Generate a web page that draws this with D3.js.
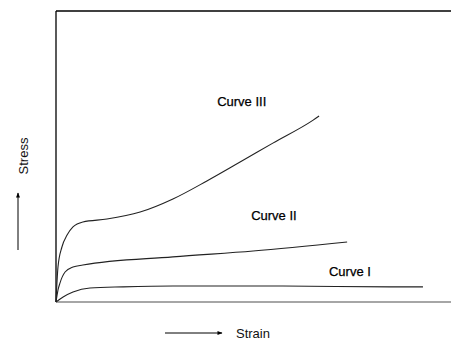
<!DOCTYPE html>
<html><head><meta charset="utf-8">
<script src="https://cdn.jsdelivr.net/npm/d3@7"></script>
<style>body{margin:0;background:#fff}svg{display:block}</style>
</head><body>
<svg id="c" width="451" height="341"></svg>
<script>
const curveI = [[0,0],[1.8,1.7],[4.3,3.4],[8.6,4.8],[17,5.2],[29.6,5.5],[56.7,5.5],[85.3,5.2],[92.9,5.2]];
const curveII = [[0,0],[0.5,4.1],[1,6.5],[2.3,10.3],[4.3,12.0],[6.8,12.7],[29.6,15.5],[49.9,17.5],[73.7,20.6]];
const curveIII = [[0,0],[0.5,12.0],[1.5,18.9],[2.8,23.0],[4.3,25.8],[6.8,27.5],[12.9,28.5],[21.3,30.9],[29.6,35.4],[38.2,41.6],[46.6,48.1],[54.9,54.6],[65.1,62.5],[66.6,63.9]];
const labels = ["Curve III","Curve II","Curve I"];
const labelPos = [[40.8,67.4],[49.4,28.2],[69.1,8.9]];
const series = [curveIII, curveII, curveI];

const svg = d3.select("#c");
const x = d3.scaleLinear().domain([0,100]).range([56,451]);
const y = d3.scaleLinear().domain([0,100]).range([302,11]);
const font = "Liberation Sans, Arial, sans-serif";

// frame
svg.append("line").attr("x1",x(0)).attr("x2",x(100)).attr("y1",y(100)).attr("y2",y(100)).attr("stroke","#000").attr("stroke-width",1.3);
svg.append("line").attr("x1",x(0)).attr("x2",x(0)).attr("y1",y(100)).attr("y2",y(0)).attr("stroke","#000").attr("stroke-width",1.3);
svg.append("line").attr("x1",x(0)).attr("x2",x(100)).attr("y1",y(0)).attr("y2",y(0)).attr("stroke","#888").attr("stroke-width",1.3);

const line = d3.line().x(d=>x(d[0])).y(d=>y(d[1])).curve(d3.curveMonotoneX);
series.forEach(s=>{
  svg.append("path").attr("d",line(s)).attr("fill","none").attr("stroke","#222").attr("stroke-width",1.1);
});
labels.forEach((t,i)=>{
  svg.append("text").attr("x",x(labelPos[i][0])).attr("y",y(labelPos[i][1]))
    .attr("font-family",font).attr("font-size",13).attr("fill","#000")
    .attr("stroke","#000").attr("stroke-width",0.25).text(t);
});

// axis labels with arrows
svg.append("defs").append("marker").attr("id","ah").attr("viewBox","0 0 10 10").attr("refX",9).attr("refY",5)
  .attr("markerWidth",7).attr("markerHeight",5).attr("orient","auto")
  .append("path").attr("d","M0,1L10,5L0,9Z").attr("fill","#000");
svg.append("line").attr("x1",165).attr("x2",222).attr("y1",333).attr("y2",333).attr("stroke","#000").attr("stroke-width",1).attr("marker-end","url(#ah)");
svg.append("text").attr("x",236).attr("y",338).attr("font-family",font).attr("font-size",13).attr("fill","#111").text("Strain");
svg.append("line").attr("x1",18).attr("x2",18).attr("y1",250).attr("y2",193).attr("stroke","#000").attr("stroke-width",1).attr("marker-end","url(#ah)");
svg.append("text").attr("transform","translate(28,156) rotate(-90)").attr("text-anchor","middle").attr("font-family",font).attr("font-size",13).attr("fill","#111").text("Stress");
</script>
</body></html>
